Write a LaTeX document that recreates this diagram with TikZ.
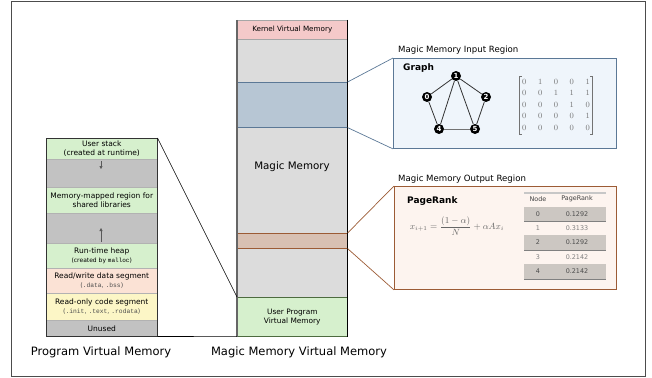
\documentclass[tikz,border=0pt]{standalone}
\usepackage{amsmath}
\usepackage{fontspec}
\setmainfont{DejaVu Sans}
\setmonofont{Liberation Mono}
\usetikzlibrary{arrows.meta}
\definecolor{lgreen}{HTML}{D6F0CD}
\definecolor{lgray}{HTML}{C2C2C2}
\definecolor{mgray}{HTML}{DCDCDC}
\definecolor{peach}{HTML}{FBE2D5}
\definecolor{lyellow}{HTML}{FCF6C6}
\definecolor{kpink}{HTML}{F4C9C9}
\definecolor{blueband}{HTML}{B7C6D4}
\definecolor{blueedge}{HTML}{5B7896}
\definecolor{brownband}{HTML}{D8C0B2}
\definecolor{brownedge}{HTML}{9C5B35}
\definecolor{inbg}{HTML}{EFF5FB}
\definecolor{outbg}{HTML}{FDF4EF}
\definecolor{tshade}{HTML}{CCC7C2}
\definecolor{greenedge}{HTML}{4D6B3F}
\tikzset{
  cell/.style={draw=black!30, line width=0.5pt, minimum width=111pt, anchor=north west, inner sep=0pt, align=center, font=\fontsize{7.5}{9}\selectfont},
  mcol/.style={minimum width=110pt, anchor=north west, inner sep=0pt, align=center, line width=0.6pt},
  bigbox/.style={line width=0.9pt, anchor=north west, inner sep=0pt},
  gnode/.style={circle, fill=black, text=white, inner sep=0pt, minimum size=10pt, font=\bfseries\fontsize{7}{7}\selectfont},
  gedge/.style={black!80, line width=0.8pt},
  rowshade/.style={fill=tshade, minimum width=82pt, anchor=north west, inner sep=0pt},
  tcell/.style={font=\fontsize{6.4}{7}\selectfont, inner sep=0pt},
  caption/.style={font=\fontsize{11.5}{13}\selectfont},
  regionlbl/.style={anchor=west, font=\fontsize{8.6}{10}\selectfont, inner sep=0pt},
  gaparrow/.style={-{Triangle[length=3pt,width=3pt]}, black!65, line width=0.5pt},
  bracket/.style={black!55, line width=0.5pt}
}
\begin{document}
\begin{tikzpicture}[x=1pt,y=-1pt]
\useasboundingbox (0,0) rectangle (652,377);
\coordinate (fr1) at (11,2);
\coordinate (fr2) at (645,376);
\draw[black!70, line width=1pt] (fr1) rectangle (fr2);

% ---------- left column ----------
\node[cell, fill=lgreen, minimum height=21pt] (ustack) at (46,138) {User stack\\(created at runtime)};
\node[cell, fill=lgray, minimum height=28pt] (gap1) at (46,159) {};
\node[cell, fill=lgreen, minimum height=26pt] (mmap) at (46,187) {Memory-mapped region for\\shared libraries};
\node[cell, fill=lgray, minimum height=30pt] (gap2) at (46,213) {};
\node[cell, fill=lgreen, minimum height=25pt] (heap) at (46,243) {Run-time heap\\{\fontsize{6}{7}\selectfont(created by \texttt{malloc})}};
\node[cell, fill=peach, minimum height=25pt] (rw) at (46,268) {Read/write data segment\\{\fontsize{6.3}{7}\selectfont\color{black!70}(\texttt{.data}, \texttt{.bss})}};
\node[cell, fill=lyellow, minimum height=27pt] (ro) at (46,293) {Read-only code segment\\{\fontsize{6.3}{7}\selectfont\color{black!70}(\texttt{.init}, \texttt{.text}, \texttt{.rodata})}};
\node[cell, fill=lgray, minimum height=16pt] (unused) at (46,320) {Unused};
\draw[black!80, line width=0.6pt] (ustack.north west) rectangle (unused.south east);

\coordinate (a1s) at (101,161);
\coordinate (a1e) at (101,169);
\draw[gaparrow] (a1s) -- (a1e);
\coordinate (a2s) at (101,242);
\coordinate (a2e) at (101,228);
\draw[gaparrow] (a2s) -- (a2e);

% ---------- middle column ----------
\node[mcol, fill=mgray, draw=black!70, minimum height=277pt] (magic) at (237,20) {};
\node[font=\fontsize{10.3}{12}\selectfont] (magiclbl) at (292,167) {Magic Memory};
\node[mcol, fill=kpink, draw=black!35, minimum height=19pt, font=\fontsize{7.2}{8}\selectfont] (kernel) at (237,20) {Kernel Virtual Memory};
\node[mcol, fill=blueband, draw=blueedge, minimum height=45pt] (inreg) at (237,82) {};
\node[mcol, fill=brownband, draw=brownedge, minimum height=15pt] (outreg) at (237,233) {};
\node[mcol, fill=lgreen, draw=greenedge, minimum height=39pt, font=\fontsize{7.4}{9}\selectfont] (upvm) at (237,297) {User Program\\Virtual Memory};
\draw[black!60, line width=1.2pt] (kernel.north west) -- (upvm.south west);
\draw[black, line width=0.6pt] (kernel.north east) -- (upvm.south east);

% connectors left -> middle
\draw[black, line width=0.6pt] (ustack.north east) -- (upvm.north west);
\draw[black, line width=0.6pt] (unused.south east) -- (upvm.south west);

% ---------- input region ----------
\node[bigbox, draw=blueedge, fill=inbg, minimum width=223pt, minimum height=90pt] (inbox) at (393,58) {};
\draw[blueedge, line width=0.7pt] (inreg.north east) -- (inbox.north west);
\draw[blueedge, line width=0.7pt] (inreg.south east) -- (inbox.south west);
\node[regionlbl] (inlbl) at (398,50) {Magic Memory Input Region};
\node[anchor=west, inner sep=0pt, font=\bfseries\fontsize{9}{10}\selectfont] (graphlbl) at (403,68) {Graph};

\node[gnode] (g1) at (456,76) {1};
\node[gnode] (g0) at (427,97) {0};
\node[gnode] (g2) at (486,97) {2};
\node[gnode] (g4) at (439,129) {4};
\node[gnode] (g5) at (475,129) {5};
\draw[gedge] (g0) -- (g1);
\draw[gedge] (g1) -- (g2);
\draw[gedge] (g0) -- (g4);
\draw[gedge] (g1) -- (g4);
\draw[gedge] (g1) -- (g5);
\draw[gedge] (g2) -- (g5);
\draw[gedge, black!55] (g4) -- (g5);

\node[text=black!55, font=\fontsize{8}{11.4}\selectfont, inner xsep=2.5pt, inner ysep=0.5pt] (adj) at (556,105)
 {$\setlength{\arraycolsep}{5.8pt}\begin{array}{@{}ccccc@{}}
 0&1&0&0&1\\
 0&0&1&1&1\\
 0&0&0&1&0\\
 0&0&0&0&1\\
 0&0&0&0&0
 \end{array}$};
\draw[bracket] (adj.north west) ++(2.5,0) -- ++(-2.5,0) -- (adj.south west) -- ++(2.5,0);
\draw[bracket] (adj.north east) ++(-2.5,0) -- ++(2.5,0) -- (adj.south east) -- ++(-2.5,0);

% ---------- output region ----------
\node[bigbox, draw=brownedge, fill=outbg, minimum width=222pt, minimum height=103pt] (outbox) at (394,186) {};
\draw[brownedge, line width=0.7pt] (outreg.north east) -- (outbox.north west);
\draw[brownedge, line width=0.7pt] (outreg.south east) -- (outbox.south west);
\node[regionlbl] (outlbl) at (398,179) {Magic Memory Output Region};
\node[anchor=west, inner sep=0pt, font=\bfseries\fontsize{9}{10}\selectfont] (prlbl) at (407,201) {PageRank};
\node[text=black!60, font=\fontsize{9}{11}\selectfont, inner sep=0pt] (formula) at (457,226)
 {$x_{i+1} = \dfrac{(1-\alpha)}{N} + \alpha A x_i$};

% table
\coordinate (ttl) at (524,193);
\coordinate (ttr) at (606,193);
\draw[black!22, line width=1.6pt] (ttl) -- (ttr);
\node[tcell, text=black!75] (hnode) at (538,199) {Node};
\node[tcell, text=black!75] (hpr) at (577,199) {PageRank};

\node[rowshade, minimum height=14pt] (r0) at (524,207) {};
\node[rowshade, minimum height=15pt] (r2) at (524,235) {};
\node[rowshade, minimum height=15pt] (r4) at (524,264) {};
\draw[black!50, line width=0.9pt] (r0.south west) -- (r0.south east);
\draw[black!50, line width=0.9pt] (r2.south west) -- (r2.south east);
\draw[black!50, line width=0.9pt] (r4.south west) -- (r4.south east);

\node[tcell, text=black!70] (n0) at (538,214) {0};
\node[tcell, text=black!70] (p0) at (577,214) {0.1292};
\node[tcell, text=black!50] (n1) at (538,228) {1};
\node[tcell, text=black!50] (p1) at (577,228) {0.3133};
\node[tcell, text=black!70] (n2) at (538,242.5) {2};
\node[tcell, text=black!70] (p2) at (577,242.5) {0.1292};
\node[tcell, text=black!50] (n3) at (538,257) {3};
\node[tcell, text=black!50] (p3) at (577,257) {0.2142};
\node[tcell, text=black!70] (n4) at (538,271.5) {4};
\node[tcell, text=black!70] (p4) at (577,271.5) {0.2142};

% ---------- captions ----------
\node[caption] (pvmlbl) at (101,352) {Program Virtual Memory};
\node[caption] (mmvlbl) at (299,352) {Magic Memory Virtual Memory};
\end{tikzpicture}
\end{document}
